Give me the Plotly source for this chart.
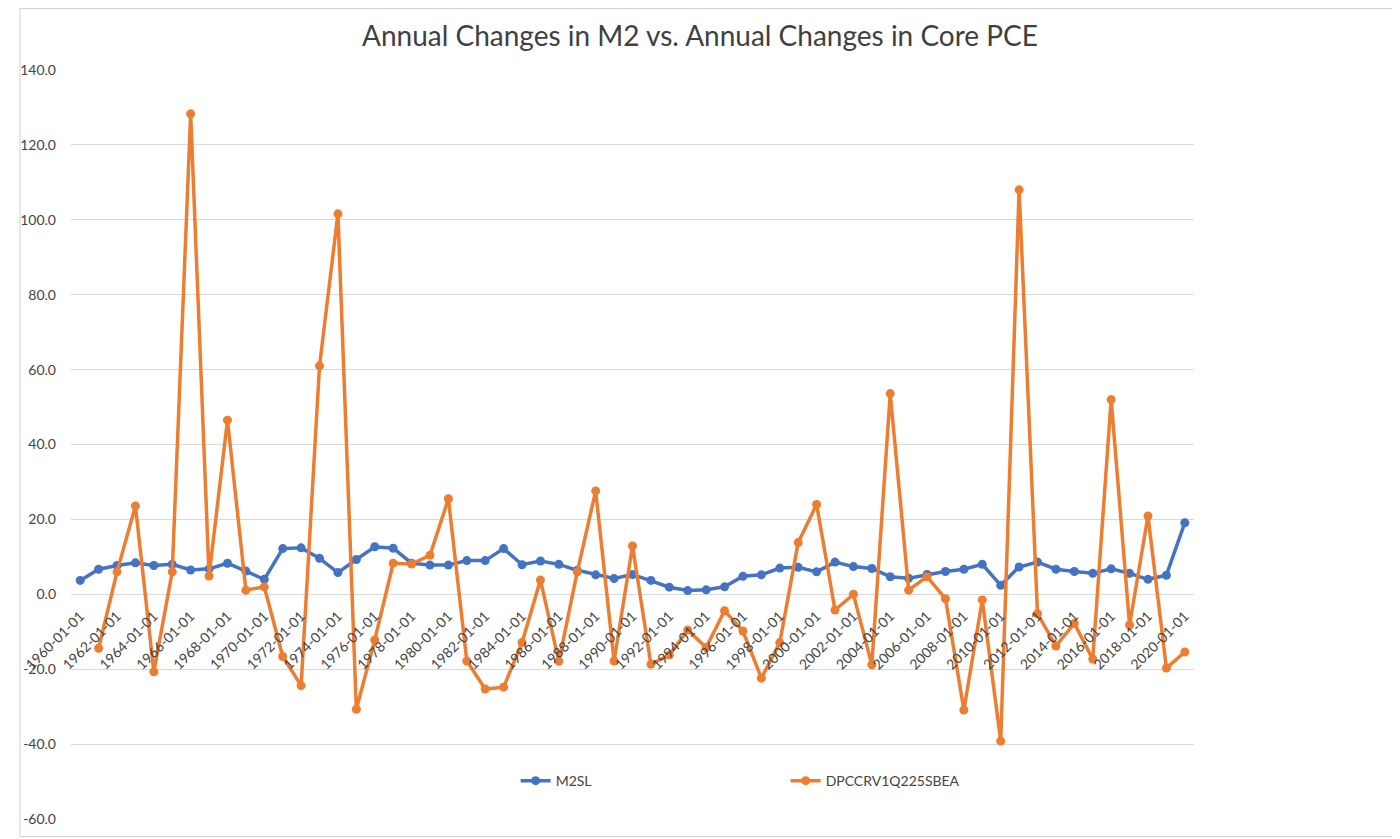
import plotly.graph_objects as go

years = list(range(1960, 2021))
categories = [f"{y}-01-01" for y in years]

m2sl = [3.7, 6.7, 7.7, 8.4, 7.7, 8.0, 6.5, 6.8, 8.3, 6.2,
        4.0, 12.2, 12.4, 9.6, 5.8, 9.3, 12.7, 12.3, 8.3, 7.8,
        7.8, 9.0, 9.0, 12.2, 7.9, 8.9, 8.0, 6.4, 5.2, 4.2,
        5.3, 3.7, 1.9, 1.0, 1.2, 2.0, 4.8, 5.2, 7.0, 7.2,
        6.0, 8.6, 7.4, 6.9, 4.7, 4.3, 5.3, 6.1, 6.7, 8.0,
        2.4, 7.3, 8.6, 6.7, 6.1, 5.6, 6.8, 5.6, 4.0, 5.1,
        19.1]

# Core PCE series starts in 1961
pce_categories = categories[1:]
pce = [-14.4, 6.0, 23.6, -20.7, 6.0, 128.3, 4.9, 46.5, 1.1,
       2.0, -16.6, -24.4, 61.0, 101.6, -30.7, -12.2, 8.3, 8.1, 10.4,
       25.5, -17.8, -25.3, -24.8, -12.9, 3.8, -17.9, 6.0, 27.6, -17.8,
       12.9, -18.7, -16.2, -9.5, -14.2, -4.4, -9.8, -22.4, -12.9, 13.8,
       24.0, -4.2, 0.0, -18.8, 53.6, 1.1, 4.7, -1.2, -30.9, -1.5,
       -39.2, 108.0, -5.2, -13.8, -7.8, -17.3, 52.0, -8.2, 20.9, -19.7,
       -15.4]

tick_cats = categories[::2]
y_ticks = list(range(-60, 141, 20))
y_tick_text = [f"{v:.1f}" for v in y_ticks]

title_text = "Annual Changes in M2 vs. Annual Changes in Core PCE"
FONT = "Lato, 'Open Sans', sans-serif"
BLUE = "#4472C4"
ORANGE = "#ED7D31"
GRID = "#D9D9D9"
TXT = "#444444"

# page has an 8px body margin; size the figure so the plot area lands
# where the reference has it
OFF = 8
W, H = 1400 - OFF, 839 - OFF
L, R, T, B = 60 - OFF, 206, 70 - OFF, 19

fig = go.Figure()
fig.add_trace(go.Scatter(
    x=categories, y=m2sl, name="M2SL", mode="lines+markers",
    line=dict(color=BLUE, width=3.5), marker=dict(color=BLUE, size=9)))
fig.add_trace(go.Scatter(
    x=pce_categories, y=pce, name="DPCCRV1Q225SBEA", mode="lines+markers",
    line=dict(color=ORANGE, width=3.5), marker=dict(color=ORANGE, size=9)))

pw = W - L - R
ph = H - T - B

fig.update_layout(
    width=W, height=H,
    margin=dict(l=L, r=R, t=T, b=B, pad=0),
    paper_bgcolor="white", plot_bgcolor="white",
    font=dict(family=FONT, color=TXT, size=14),
    title=dict(text=title_text, x=(700 - OFF) / W, xanchor="center",
               y=1 - (36 - OFF) / H, yanchor="middle",
               font=dict(family=FONT, size=28, color="#404040")),
    showlegend=True,
    legend=dict(orientation="h", x=(509 - 60) / pw, xanchor="left",
                y=(820 - 782) / ph, yanchor="middle",
                entrywidth=225, entrywidthmode="pixels",
                font=dict(family=FONT, size=14, color=TXT),
                bgcolor="rgba(0,0,0,0)", itemclick=False),
    xaxis=dict(type="category", categoryorder="array", categoryarray=categories,
               range=[-0.5, len(categories) - 0.5],
               tickmode="array", tickvals=tick_cats, ticktext=tick_cats,
               tickangle=-45, tickfont=dict(family=FONT, size=14, color=TXT),
               showgrid=False, showline=False, zeroline=False, ticks="",
               anchor="free", position=(60 - 10 / 3.75) / 200),
    yaxis=dict(range=[-60, 140], tickmode="array", tickvals=y_ticks,
               ticktext=y_tick_text, showgrid=True, gridcolor=GRID, gridwidth=1,
               zeroline=True, zerolinecolor=GRID, zerolinewidth=1,
               showline=False, ticks="", ticklabelstandoff=14,
               tickfont=dict(family=FONT, size=14, color=TXT)),
)

# outer chart frame
fig.add_shape(type="rect", xref="paper", yref="paper",
              x0=(0.5 - L) / pw, x1=(W - 1.5 - L) / pw,
              y0=-(B - 1.5) / ph, y1=1 + (T - 0.5) / ph,
              line=dict(color="#D0D0D0", width=1), fillcolor="rgba(0,0,0,0)",
              layer="below")

fig.write_html("out.html")
